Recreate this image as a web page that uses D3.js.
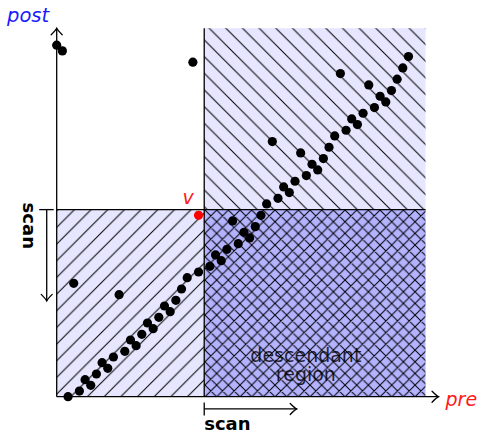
<!DOCTYPE html>
<html>
<head>
<meta charset="utf-8">
<script src="https://cdn.jsdelivr.net/npm/d3@7/dist/d3.min.js"></script>
<style>
  html, body { margin: 0; padding: 0; background: #fff; }
  svg { display: block; }
  text { font-family: "DejaVu Sans", sans-serif; }
</style>
</head>
<body>
<svg id="chart" width="478" height="432"></svg>
<script>
// ---- data ----
const nodePre  = [0,1,2,3,4,5,6,7,8,9,10,11,12,13,14,15,16,17,18,19,20,21,22,23,24,25,
                  27,28,29,30,31,32,33,34,35,36,37,38,39,40,41,42,43,44,45,46,47,48,49,50,
                  51,52,53,54,55,56,57,58,59,60,61,62];
const nodePost = [62,61,0,20,1,3,2,4,6,5,7,18,8,10,9,11,13,12,14,16,15,17,19,21,59,22,
                  23,25,24,26,31,27,29,28,30,32,34,45,35,37,36,38,43,39,41,40,42,44,46,57,
                  47,49,48,50,55,51,53,52,54,56,58,60];
const vSplit = { pre: 26, post: 33 };      // v's (pre, post) rank: region boundaries
const vMarker = { pre: 25, post: 32 };     // where the red v dot is drawn
const rankMax = 65;                         // extent of the shaded regions
const axisLabels = { x: "pre", y: "post" };
const vLabel = "v";
const regionLabel = ["descendant", "region"];
const scanLabel = "scan";

// ---- scales ----
const x = d3.scaleLinear().domain([0, rankMax]).range([56.7, 425.5]);
const y = d3.scaleLinear().domain([0, rankMax]).range([396.7, 28.2]);

const svg = d3.select("#chart");
const defs = svg.append("defs");

// hatch patterns
function hatch(id, size, px, py, ne, nw, bg) {
  const p = defs.append("pattern").attr("id", id)
    .attr("patternUnits", "userSpaceOnUse")
    .attr("x", px).attr("y", py).attr("width", size).attr("height", size);
  p.append("rect").attr("width", size).attr("height", size).attr("fill", bg);
  let d = "";
  const h = size;
  if (ne) d += `M0,${h}L${h},0M-2,2L2,-2M${h-2},${h+2}L${h+2},${h-2}`;
  if (nw) d += `M0,0L${h},${h}M-2,${h-2}L2,${h+2}M${h-2},-2L${h+2},2`;
  p.append("path").attr("d", d).attr("stroke", "#000").attr("stroke-width", 1).attr("fill", "none");
}
hatch("neLines", 16.67, 0, 0.67, true, false, "#e6e6ff");
hatch("nwLines", 16.67, 14.3, 0, false, true, "#e6e6ff");
hatch("cross", 11.67, 6.6, 0, true, true, "#b3b3ff");

// regions
const regions = [
  { p0: 0, p1: vSplit.pre, q0: 0, q1: vSplit.post, fill: "url(#neLines)" },
  { p0: vSplit.pre, p1: rankMax, q0: vSplit.post, q1: rankMax, fill: "url(#nwLines)" },
  { p0: vSplit.pre, p1: rankMax, q0: 0, q1: vSplit.post, fill: "url(#cross)" }
];
svg.selectAll("rect.region").data(regions).enter().append("rect")
  .attr("class", "region")
  .attr("x", d => x(d.p0)).attr("y", d => y(d.q1))
  .attr("width", d => x(d.p1) - x(d.p0)).attr("height", d => y(d.q0) - y(d.q1))
  .attr("fill", d => d.fill);

// boundary lines through v
svg.append("line").attr("x1", x(vSplit.pre)).attr("x2", x(vSplit.pre))
  .attr("y1", y(rankMax)).attr("y2", y(0))
  .attr("stroke", "#000").attr("stroke-width", 1.3);
svg.append("line").attr("x1", x(0)).attr("x2", x(rankMax))
  .attr("y1", y(vSplit.post)).attr("y2", y(vSplit.post))
  .attr("stroke", "#000").attr("stroke-width", 1.3);

// region label
const rl = svg.append("text")
  .attr("text-anchor", "middle")
  .attr("font-size", 19)
  .attr("fill", "#000").attr("fill-opacity", 0.82);
rl.selectAll("tspan").data(regionLabel).enter().append("tspan")
  .attr("x", x((vSplit.pre + rankMax) / 2) - 9)
  .attr("y", (d, i) => 362 + i * 19)
  .text(d => d);

// arrow helper
function arrowHead(g, tx, ty, dx, dy) {
  const len = 6.5, hw = 5.5;
  const px = -dy, py = dx;
  const a1 = [tx - dx * len + px * hw, ty - dy * len + py * hw];
  const a2 = [tx - dx * len - px * hw, ty - dy * len - py * hw];
  const c1 = [tx - dx * 2 + px * 1, ty - dy * 2 + py * 1];
  const c2 = [tx - dx * 2 - px * 1, ty - dy * 2 - py * 1];
  g.append("path")
    .attr("d", `M${a1}Q${c1} ${tx},${ty}Q${c2} ${a2}`)
    .attr("fill", "none").attr("stroke", "#000").attr("stroke-width", 1.3)
    .attr("stroke-linecap", "round");
}

// axes
const axes = svg.append("g");
const xAxisEnd = 67.3, yAxisEnd = 65;
axes.append("line").attr("x1", x(0)).attr("y1", y(0)).attr("x2", x(xAxisEnd)).attr("y2", y(0))
  .attr("stroke", "#000").attr("stroke-width", 1.3);
arrowHead(axes, x(xAxisEnd), y(0), 1, 0);
axes.append("line").attr("x1", x(0)).attr("y1", y(0)).attr("x2", x(0)).attr("y2", y(yAxisEnd))
  .attr("stroke", "#000").attr("stroke-width", 1.3);
arrowHead(axes, x(0), y(yAxisEnd), 0, -1);

// axis labels
svg.append("text").attr("x", x(xAxisEnd) + 7).attr("y", y(0) + 9.5)
  .attr("font-size", 19).attr("font-style", "italic").attr("fill", "#ff1a1a")
  .text(axisLabels.x);
svg.append("text").attr("x", 7).attr("y", 21.5)
  .attr("font-size", 19.5).attr("font-style", "italic").attr("fill", "#1a1aff")
  .text(axisLabels.y);

// scan arrows
const scan = svg.append("g");
const scanPreEnd = 42.3, scanPostEnd = 16.9;
const scanBottomQ = -2.16, scanLeftP = -1.76;
// bottom scan
scan.append("line").attr("x1", x(vSplit.pre)).attr("x2", x(scanPreEnd))
  .attr("y1", y(scanBottomQ)).attr("y2", y(scanBottomQ))
  .attr("stroke", "#000").attr("stroke-width", 1.3);
scan.append("line").attr("x1", x(vSplit.pre)).attr("x2", x(vSplit.pre))
  .attr("y1", y(scanBottomQ) - 6.5).attr("y2", y(scanBottomQ) + 6.5)
  .attr("stroke", "#000").attr("stroke-width", 1.3);
arrowHead(scan, x(scanPreEnd), y(scanBottomQ), 1, 0);
svg.append("text").attr("x", x(vSplit.pre)).attr("y", 430)
  .attr("font-size", 18).attr("font-weight", "bold").attr("fill", "#000")
  .text(scanLabel);
// left scan
scan.append("line").attr("x1", x(scanLeftP)).attr("x2", x(scanLeftP))
  .attr("y1", y(vSplit.post)).attr("y2", y(scanPostEnd))
  .attr("stroke", "#000").attr("stroke-width", 1.3);
scan.append("line").attr("x1", x(scanLeftP) - 7.5).attr("x2", x(scanLeftP) + 7)
  .attr("y1", y(vSplit.post)).attr("y2", y(vSplit.post))
  .attr("stroke", "#000").attr("stroke-width", 1.3);
arrowHead(scan, x(scanLeftP), y(scanPostEnd), 0, 1);
svg.append("text")
  .attr("transform", `translate(23,${y(vSplit.post) - 7}) rotate(90)`)
  .attr("font-size", 18).attr("font-weight", "bold").attr("fill", "#000")
  .text(scanLabel);

// nodes
const nodes = nodePre.map((p, i) => ({ pre: p, post: nodePost[i] }));
svg.selectAll("circle.node").data(nodes).enter().append("circle")
  .attr("class", "node")
  .attr("cx", d => x(d.pre)).attr("cy", d => y(d.post)).attr("r", 4.6)
  .attr("fill", "#000");

// v marker
svg.append("circle").attr("cx", x(vMarker.pre)).attr("cy", y(vMarker.post)).attr("r", 4.6)
  .attr("fill", "#ff0000");
svg.append("text").attr("x", x(vMarker.pre) - 16).attr("y", 204)
  .attr("font-size", 19).attr("font-style", "italic").attr("fill", "#ff1a1a")
  .text(vLabel);
</script>
</body>
</html>
